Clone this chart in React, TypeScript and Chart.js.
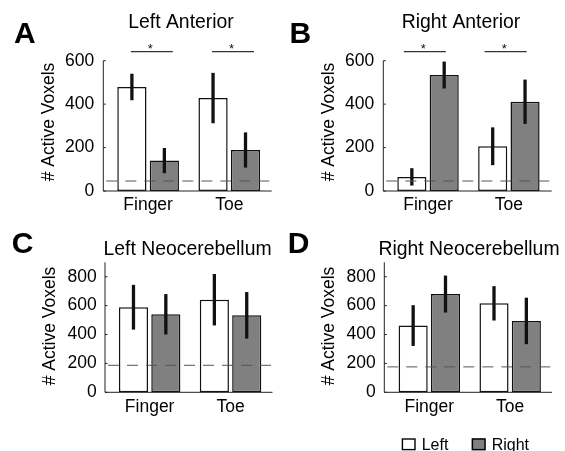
import React, { useEffect, useRef } from 'react';
import { Chart, registerables } from 'chart.js';

Chart.register(...registerables);

const W = 565;
const H = 451;
const FONT = "'Liberation Sans', Arial, Helvetica, sans-serif";

// ---------- data ----------
const categories = ['Finger', 'Toe'];
const seriesNames = ['Left', 'Right'];
const yAxisTitle = '# Active Voxels';
const panelTitles = ['Left Anterior', 'Right Anterior', 'Left Neocerebellum', 'Right Neocerebellum'];
const panelLetters = ['A', 'B', 'C', 'D'];

// Panel A – Left Anterior
const aLeft = [479, 428];
const aLeftErr = [61, 116];
const aRight = [140, 189];
const aRightErr = [58, 81];

// Panel B – Right Anterior
const bLeft = [65, 206];
const bLeftErr = [40, 87];
const bRight = [534, 411];
const bRightErr = [62, 102];

// Panel C – Left Neocerebellum
const cLeft = [589, 641];
const cLeftErr = [155, 178];
const cRight = [540, 533];
const cRightErr = [140, 161];

// Panel D – Right Neocerebellum
const dLeft = [462, 616];
const dLeftErr = [141, 119];
const dRight = [680, 494];
const dRightErr = [128, 161];

const chanceLevels = [46, 46, 187, 176];
const yMaxes = [600, 600, 900, 900];
const yStep = 200;
const sigLevels = [642, 642, null, null];
const sigMark = '*';

const panelData = [
  { left: aLeft, leftErr: aLeftErr, right: aRight, rightErr: aRightErr },
  { left: bLeft, leftErr: bLeftErr, right: bRight, rightErr: bRightErr },
  { left: cLeft, leftErr: cLeftErr, right: cRight, rightErr: cRightErr },
  { left: dLeft, leftErr: dLeftErr, right: dRight, rightErr: dRightErr },
];

// ---------- layout (positions only) ----------
const layouts = [
  { originX: 0, plotLeft: 107.55, plotRight: 269.85, plotTop: 60.7, plotBottom: 191, axisX: 103.3, axisRight: 271.7, tickRight: 94.3, yTitleX: 49, yTitleY: 122, titleX: 181, titleBase: 28.3, letterX: 14, letterBase: 43.3, sigShift: 3.7 },
  { originX: 280, plotLeft: 387.6, plotRight: 549.3, plotTop: 60.7, plotBottom: 191, axisX: 383.3, axisRight: 551.7, tickRight: 374.3, yTitleX: 329.2, yTitleY: 122, titleX: 461, titleBase: 28.3, letterX: 289.5, letterBase: 43.3, sigShift: -3.2 },
  { originX: 0, plotLeft: 109.2, plotRight: 271, plotTop: 262.3, plotBottom: 392.3, axisX: 105, axisRight: 272.5, tickRight: 96.7, yTitleX: 49.7, yTitleY: 326, titleX: 187.5, titleBase: 254.5, letterX: 11.8, letterBase: 253.3, sigShift: 0 },
  { originX: 280, plotLeft: 388.9, plotRight: 550.6, plotTop: 262.3, plotBottom: 392.3, axisX: 384.3, axisRight: 552, tickRight: 375.7, yTitleX: 329.2, yTitleY: 326, titleX: 469, titleBase: 254.5, letterX: 287.7, letterBase: 253.3, sigShift: 0 },
];

const WHITE = '#ffffff';
const GRAY = '#808080';

function makeOverlay(idx: number) {
  return {
    id: 'overlay' + idx,
    afterDatasetsDraw(chart: any) {
      const L = layouts[idx];
      const ctx = chart.ctx as CanvasRenderingContext2D;
      const ys = chart.scales.y;
      const xs = chart.scales.x;
      ctx.save();

      // axis lines
      const y0 = ys.getPixelForValue(0);
      const yTop = ys.getPixelForValue(yMaxes[idx]);
      ctx.strokeStyle = '#222';
      ctx.lineWidth = 1;
      ctx.setLineDash([]);
      ctx.beginPath();
      ctx.moveTo(L.axisX, yTop);
      ctx.lineTo(L.axisX, y0);
      ctx.lineTo(L.axisRight, y0);
      ctx.stroke();
      // inward tick marks
      ys.ticks.forEach((t: any) => {
        const p = ys.getPixelForValue(t.value);
        ctx.beginPath();
        ctx.moveTo(L.axisX, p);
        ctx.lineTo(L.axisX + 2.5, p);
        ctx.stroke();
      });

      // error bars
      chart.data.datasets.forEach((ds: any, di: number) => {
        const meta = chart.getDatasetMeta(di);
        meta.data.forEach((bar: any, i: number) => {
          const m = ds.data[i];
          const e = ds.errors[i];
          ctx.beginPath();
          ctx.strokeStyle = '#111';
          ctx.lineWidth = 3.3;
          ctx.lineCap = 'butt';
          ctx.moveTo(bar.x, ys.getPixelForValue(m - e));
          ctx.lineTo(bar.x, ys.getPixelForValue(m + e));
          ctx.stroke();
        });
      });

      // chance level dashed line
      const cy = ys.getPixelForValue(chanceLevels[idx]);
      ctx.beginPath();
      ctx.strokeStyle = '#555';
      ctx.lineWidth = 1;
      ctx.setLineDash([11, 8]);
      ctx.moveTo(L.axisX + 3, cy);
      ctx.lineTo(L.axisRight, cy);
      ctx.stroke();
      ctx.setLineDash([]);

      // significance markers
      const sig = sigLevels[idx];
      if (sig !== null) {
        const sy = ys.getPixelForValue(sig);
        categories.forEach((_, i) => {
          const cx = xs.getPixelForValue(i) + L.sigShift;
          ctx.beginPath();
          ctx.strokeStyle = '#333';
          ctx.lineWidth = 1.3;
          ctx.moveTo(cx - 21, sy);
          ctx.lineTo(cx + 21, sy);
          ctx.stroke();
          ctx.fillStyle = '#111';
          ctx.font = `13px ${FONT}`;
          ctx.textAlign = 'center';
          ctx.textBaseline = 'alphabetic';
          ctx.fillText(sigMark, cx - 1.5, sy + 1);
        });
      }
      ctx.restore();
    },
    afterDraw(chart: any) {
      const L = layouts[idx];
      const ctx = chart.ctx as CanvasRenderingContext2D;
      ctx.save();
      ctx.fillStyle = '#000';
      // panel title
      ctx.font = `19.4px ${FONT}`;
      ctx.textAlign = 'center';
      ctx.textBaseline = 'alphabetic';
      ctx.fillText(panelTitles[idx], L.titleX, L.titleBase);
      // panel letter
      ctx.font = `bold 30px ${FONT}`;
      ctx.textAlign = 'left';
      ctx.fillText(panelLetters[idx], L.letterX, L.letterBase);
      // y axis title
      ctx.save();
      ctx.translate(L.yTitleX, L.yTitleY);
      ctx.rotate(-Math.PI / 2);
      ctx.font = `17.5px ${FONT}`;
      ctx.textAlign = 'center';
      ctx.textBaseline = 'middle';
      ctx.fillText(yAxisTitle, 0, 0);
      ctx.restore();

      // legend (drawn once, under panel D)
      if (idx === 3) {
        const boxX = [401.7, 471.7];
        chart.data.datasets.forEach((ds: any, di: number) => {
          ctx.fillStyle = ds.backgroundColor;
          ctx.fillRect(boxX[di], 438.3, 14, 12);
          ctx.strokeStyle = '#000';
          ctx.lineWidth = 1.4;
          ctx.strokeRect(boxX[di] + 0.7, 438.3 + 0.7, 12.6, 10.6);
          ctx.fillStyle = '#000';
          ctx.font = `16px ${FONT}`;
          ctx.textAlign = 'left';
          ctx.textBaseline = 'alphabetic';
          ctx.fillText(ds.label, boxX[di] + 20, 449.8);
        });
      }
      ctx.restore();
    },
  };
}

function Panel({ idx }: { idx: number }) {
  const ref = useRef<HTMLCanvasElement | null>(null);
  useEffect(() => {
    if (!ref.current) return;
    const L = layouts[idx];
    const d = panelData[idx];
    const tickFont = { family: FONT, size: 17.5 };
    const yWidth = L.plotLeft - L.originX;
    const chart = new Chart(ref.current, {
      type: 'bar',
      data: {
        labels: categories,
        datasets: [
          {
            label: seriesNames[0],
            data: d.left,
            errors: d.leftErr,
            backgroundColor: WHITE,
            borderColor: '#111',
            borderWidth: 1.5,
            borderSkipped: false,
            barPercentage: 0.9,
            categoryPercentage: 0.8,
          } as any,
          {
            label: seriesNames[1],
            data: d.right,
            errors: d.rightErr,
            backgroundColor: GRAY,
            borderColor: '#111',
            borderWidth: 1.5,
            borderSkipped: false,
            barPercentage: 0.9,
            categoryPercentage: 0.8,
          } as any,
        ],
      },
      options: {
        responsive: false,
        animation: false,
        devicePixelRatio: 1,
        events: [],
        layout: {
          padding: {
            left: L.originX,
            right: W - L.plotRight,
            top: L.plotTop,
            bottom: H - L.plotBottom - 30,
          },
        },
        plugins: {
          legend: { display: false },
          tooltip: { enabled: false },
          title: { display: false },
        },
        scales: {
          x: {
            type: 'category',
            offset: true,
            grid: { display: false, drawTicks: false },
            border: { display: false },
            ticks: { color: '#000', font: tickFont, padding: 4, maxRotation: 0, autoSkip: false },
            afterFit: (s: any) => {
              s.height = 30;
            },
          },
          y: {
            type: 'linear',
            min: 0,
            max: yMaxes[idx],
            grid: { display: false, drawTicks: false },
            border: { display: false },
            ticks: {
              stepSize: yStep,
              includeBounds: false,
              color: '#000',
              font: tickFont,
              padding: L.plotLeft - L.tickRight,
            },
            afterFit: (s: any) => {
              s.width = yWidth;
            },
          },
        },
      } as any,
      plugins: [makeOverlay(idx)],
    });
    return () => chart.destroy();
  }, [idx]);
  return (
    <canvas
      ref={ref}
      width={W}
      height={H}
      style={{ position: 'absolute', left: 0, top: 0, width: W, height: H }}
    />
  );
}

export default function App() {
  return (
    <div style={{ position: 'absolute', left: 0, top: 0, width: W, height: H, background: '#fff', overflow: 'hidden' }}>
      {[0, 1, 2, 3].map((i) => (
        <Panel key={i} idx={i} />
      ))}
    </div>
  );
}
